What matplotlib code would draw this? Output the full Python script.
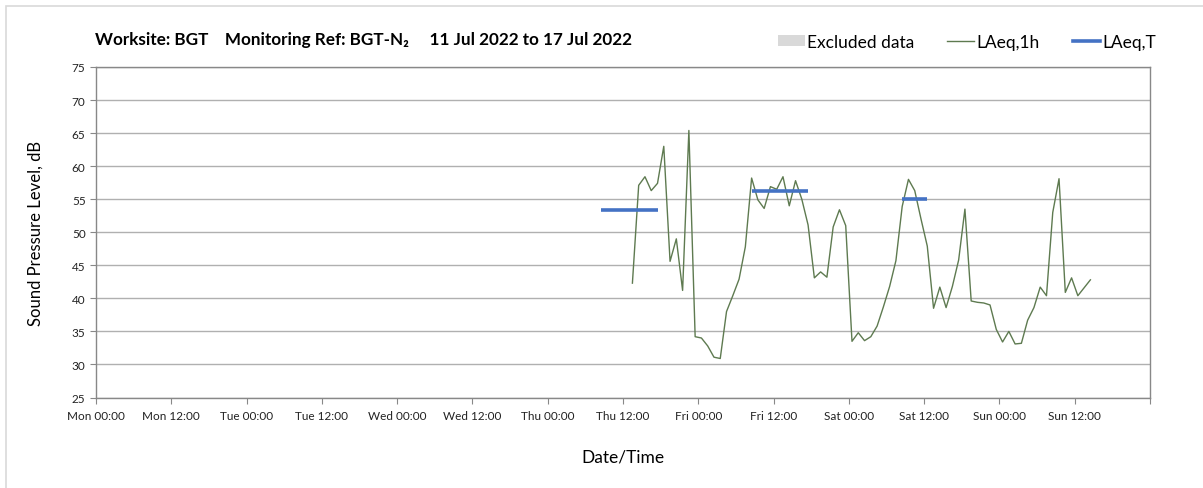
import numpy as np
import pandas as pd
import matplotlib
matplotlib.use("Agg")
import matplotlib.pyplot as plt
import matplotlib.dates as mdates
from matplotlib.lines import Line2D
from matplotlib.patches import Patch, Rectangle

# hourly LAeq,1h values, first reading Thu 14 Jul 13:30
laeq_1h = [42.3, 57.1, 58.4, 56.3, 57.4, 63.0, 45.6, 49.0, 41.2, 65.4,
           34.2, 34.0, 32.8, 31.1, 30.9, 38.0, 40.4, 42.9, 47.8, 58.2,
           54.9, 53.6, 56.9, 56.5, 58.4, 54.0, 57.8, 55.0, 51.1, 43.1,
           44.0, 43.2, 50.8, 53.4, 51.0, 33.5, 34.8, 33.6, 34.2, 35.8,
           38.7, 41.8, 45.7, 53.9, 58.0, 56.3, 52.0, 47.9, 38.5, 41.7,
           38.6, 41.8, 45.8, 53.5, 39.6, 39.4, 39.3, 39.0, 35.3, 33.4,
           35.0, 33.1, 33.2, 36.7, 38.6, 41.7, 40.4, 53.0, 58.1, 40.9,
           43.1, 40.4, 41.6, 42.8]
first_reading = "2022-07-14 13:30"

# LAeq,T over working periods
period_start = ["2022-07-14 08:30", "2022-07-15 08:30", "2022-07-16 08:30"]
period_end = ["2022-07-14 17:30", "2022-07-15 17:30", "2022-07-16 12:30"]
laeq_t = [53.4, 56.2, 55.1]

title = "Worksite: BGT    Monitoring Ref: BGT-N\u2082     11 Jul 2022 to 17 Jul 2022"

plt.rcParams["font.family"] = ["Lato", "DejaVu Sans"]

times = pd.date_range(first_reading, periods=len(laeq_1h), freq="h")

fig = plt.figure(figsize=(12.03, 4.89), dpi=100)
ax = fig.add_axes([96 / 1203, 1 - 398.5 / 489, (1150 - 96) / 1203, (398.5 - 68) / 489])

ax.plot(times, laeq_1h, color="#5e7a50", lw=1.0, zorder=3)
for s, e, v in zip(period_start, period_end, laeq_t):
    ax.plot([pd.Timestamp(s), pd.Timestamp(e)], [v, v], color="#4472c4", lw=2.6,
            solid_capstyle="butt", zorder=4)

ax.set_xlim(pd.Timestamp("2022-07-11"), pd.Timestamp("2022-07-18"))
ax.set_ylim(25, 75)
ax.set_yticks(np.arange(25, 76, 5))

ax.xaxis.set_major_locator(mdates.HourLocator(byhour=[0, 12]))
ax.xaxis.set_major_formatter(mdates.DateFormatter("%a %H:%M"))
ax.xaxis.set_minor_locator(mdates.DayLocator())
ax.grid(False)
ax.grid(axis="y", which="major", color="#b0b0b0", lw=1.0)
ax.grid(axis="x", which="minor", color="#dedede", lw=1.3)
ax.tick_params(axis="x", which="minor", length=0)
ax.tick_params(axis="both", which="major", length=4, color="#888888",
               labelsize=8.5, labelcolor="#222222")
ax.tick_params(axis="x", pad=5)
fig.canvas.draw()
for lab in ax.get_xticklabels():
    if lab.get_position()[0] >= mdates.date2num(pd.Timestamp("2022-07-18")) - 1e-6:
        lab.set_visible(False)

for sp in ax.spines.values():
    sp.set_color("#888888")
    sp.set_linewidth(1.0)

ax.set_ylabel("Sound Pressure Level, dB", fontsize=12, labelpad=20)
ax.set_xlabel("Date/Time", fontsize=12.5, labelpad=20)

fig.text(95 / 1203, 1 - 40 / 489, title, fontsize=12.3, fontweight="bold",
         va="center", ha="left")

handles = [Patch(facecolor="#d9d9d9", edgecolor="none"),
           Line2D([], [], color="#5e7a50", lw=1.0),
           Line2D([], [], color="#4472c4", lw=2.6)]
fig.legend(handles, ["Excluded data", "LAeq,1h", "LAeq,T"], loc="center right",
           bbox_to_anchor=(1172 / 1203, 1 - 43 / 489), ncol=3, frameon=False,
           fontsize=12.5, handlelength=1.55, handletextpad=0.15, columnspacing=1.9,
           handleheight=0.6)

fig.add_artist(Rectangle((5.5 / 1203, -0.05), 1.1, 1 - 7 / 489 + 0.05,
                         transform=fig.transFigure, fill=False,
                         edgecolor="#d9d9d9", lw=1.2))

fig.savefig("out.png", dpi=100)
